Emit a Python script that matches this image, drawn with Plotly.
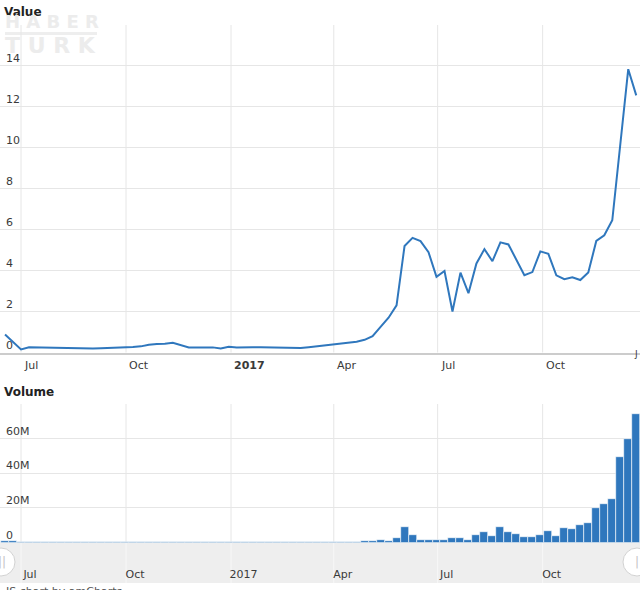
import pandas as pd
import plotly.graph_objects as go

# weekly closes and volumes
weeks = pd.date_range("2016-06-17", periods=80, freq="7D")

value = [
    0.88, 0.50, 0.15, 0.26, 0.25, 0.24, 0.22, 0.21, 0.20, 0.20,
    0.20, 0.20, 0.21, 0.22, 0.22, 0.23, 0.27, 0.30, 0.38, 0.42,
    0.43, 0.48, 0.35, 0.25, 0.25, 0.26, 0.25, 0.20, 0.28, 0.24,
    0.26, 0.26, 0.26, 0.25, 0.26, 0.24, 0.22, 0.22, 0.26, 0.30,
    0.34, 0.38, 0.42, 0.47, 0.53, 0.62, 0.80, 1.25, 1.70, 2.30,
    5.20, 5.60, 5.44, 4.90, 3.70, 3.98, 2.00, 3.90, 2.90, 4.35,
    5.05, 4.46, 5.38, 5.28, 4.50, 3.78, 3.93, 4.94, 4.82, 3.77,
    3.58, 3.67, 3.54, 3.91, 5.45, 5.73, 6.46, 10.1, 13.84, 12.56,
]

volume_m = [
    0.9, 0.8, 0.4, 0.3, 0.3, 0.3, 0.3, 0.3, 0.3, 0.3,
    0.3, 0.3, 0.3, 0.3, 0.3, 0.3, 0.3, 0.3, 0.3, 0.3,
    0.3, 0.3, 0.3, 0.3, 0.3, 0.3, 0.3, 0.3, 0.3, 0.3,
    0.3, 0.3, 0.3, 0.3, 0.3, 0.3, 0.3, 0.3, 0.3, 0.4,
    0.4, 0.4, 0.5, 0.5, 0.5, 0.6, 1.0, 1.5, 1.0, 2.5,
    8.8, 4.2, 1.7, 1.7, 1.7, 1.2, 2.5, 2.5, 1.2, 4.2,
    6.0, 3.5, 8.8, 6.0, 4.8, 3.1, 3.1, 4.2, 6.5, 3.7,
    8.6, 8.0, 10.4, 11.5, 20.0, 22.3, 25.1, 49.5, 59.7, 74.4,
]
volume = [v * 1e6 for v in volume_m]

tick_dates = ["2016-07-01", "2016-10-01", "2017-01-01", "2017-04-01", "2017-07-01", "2017-10-01"]
tick_top = ["Jul", "Oct", "<b>2017</b>", "Apr", "Jul", "Oct"]
tick_bottom = ["Jul", "Oct", "&nbsp;&nbsp;2017", "Apr", "Jul", "Oct"]

value_ticks = [0, 2, 4, 6, 8, 10, 12, 14, 16]
value_labels = ["0", "2", "4", "6", "8", "10", "12", "14", ""]
volume_ticks = [0, 20e6, 40e6, 60e6, 80e6]
volume_labels = ["0", "20M", "40M", "60M", ""]

x_range = ["2016-06-12 14:00", "2017-12-25 07:00"]
blue = "#2f77bd"
grid = "#e6e6e6"
font = "DejaVu Sans"
H = 590


def py(px):
    # pixel from top -> paper fraction
    return (H - px) / H


def px_frac(d):
    # date -> paper fraction along the shared time range
    r0, r1 = pd.Timestamp(x_range[0]), pd.Timestamp(x_range[1])
    return (pd.Timestamp(d) - r0) / (r1 - r0)


fig = go.Figure()
fig.add_trace(go.Scatter(x=weeks, y=value, mode="lines", line=dict(color=blue, width=2),
                         xaxis="x", yaxis="y", showlegend=False))
fig.add_trace(go.Bar(x=weeks, y=volume, marker=dict(color=blue, line=dict(color="#ffffff", width=0.6)),
                     xaxis="x2", yaxis="y2", showlegend=False))

axis_font = dict(family=font, size=11, color="#3a3a3a")
top_dom = [py(352.5), py(25)]
vol_dom = [py(542.5), py(404)]

fig.update_layout(
    width=640, height=H,
    margin=dict(l=0, r=0, t=0, b=0, autoexpand=False),
    paper_bgcolor="white", plot_bgcolor="rgba(0,0,0,0)",
    font=dict(family=font, size=11, color="#333"),
    bargap=0,
    xaxis=dict(domain=[0, 1], anchor="y", type="date", range=x_range,
               tickvals=tick_dates, showticklabels=False, showgrid=False,
               showline=True, linecolor="#cccccc", linewidth=2, ticks="", zeroline=False),
    yaxis=dict(domain=top_dom, anchor="x", range=[0, 16], tickvals=value_ticks,
               showgrid=True, gridcolor=grid, showticklabels=False, ticks="",
               zeroline=False, showline=False),
    xaxis2=dict(domain=[0, 1], anchor="y2", type="date", range=x_range,
                tickvals=tick_dates, ticktext=tick_bottom, showgrid=False,
                showline=False, ticks="",
                ticklabelshift=9, ticklabelstandoff=23,
                tickfont=axis_font, zeroline=False),
    yaxis2=dict(domain=vol_dom, anchor="x2", range=[0, 80e6], tickvals=volume_ticks,
                showgrid=True, gridcolor=grid, showticklabels=False, ticks="",
                zeroline=False, showline=False),
)

shapes = [
    # scrollbar strip
    dict(type="rect", xref="paper", yref="paper", x0=0, x1=1, y0=py(583), y1=py(542.5),
         fillcolor="#eeeeee", line=dict(width=0), layer="below"),
    # watermark underline
    dict(type="rect", xref="paper", yref="paper", x0=5 / 640, x1=97 / 640, y0=py(35), y1=py(32),
         fillcolor="#eeeeee", line=dict(width=0), layer="below"),
]
# vertical date gridlines for both panels, plus the faint ones across the scrollbar
for d in tick_dates:
    xf = px_frac(d)
    for y0, y1, col in [(top_dom[0], top_dom[1], grid), (vol_dom[0], vol_dom[1], grid),
                        (py(583), py(542.5), "#f7f7f7")]:
        shapes.append(dict(type="line", xref="paper", yref="paper", x0=xf, x1=xf, y0=y0, y1=y1,
                           line=dict(color=col, width=1), layer="below"))
for hx in [1, 637]:
    shapes.append(dict(type="circle", xref="paper", yref="paper", xsizemode="pixel", ysizemode="pixel",
                       xanchor=hx / 640, yanchor=py(562), x0=-14, x1=14, y0=-14, y1=14,
                       fillcolor="white", line=dict(color="#d2d2d2", width=1)))
fig.update_layout(shapes=shapes)

annotations = [
    dict(text="<b>Value</b>", x=2 / 640, y=py(12), xanchor="left", yanchor="middle",
         font=dict(family=font, size=12, color="#222")),
    dict(text="<b>Volume</b>", x=2 / 640, y=py(392), xanchor="left", yanchor="middle",
         font=dict(family=font, size=12, color="#222")),
    dict(text="<b>H A B E R</b>", x=3 / 640, y=py(22), xanchor="left", yanchor="middle",
         font=dict(family=font, size=18, color="#ececec")),
    dict(text="<b>T U R K</b>", x=3 / 640, y=py(46), xanchor="left", yanchor="middle",
         font=dict(family=font, size=22, color="#ececec")),
    dict(text="J", x=1, y=py(354), xanchor="right", yanchor="middle",
         font=dict(family=font, size=9, color="#3a3a3a")),
    dict(text="||", x=2 / 640, y=py(562), xanchor="center", yanchor="middle",
         font=dict(family=font, size=12, color="#c4c4c4")),
    dict(text="|", x=637 / 640, y=py(562), xanchor="center", yanchor="middle",
         font=dict(family=font, size=12, color="#c4c4c4")),
    dict(text="JS chart by amCharts", x=3 / 640, y=py(583), xanchor="left", yanchor="top",
         font=dict(family=font, size=11, color="#555")),
]
annotations = [dict(a, xref="paper", yref="paper") for a in annotations]

# top date labels start just right of their gridlines, as in amCharts
for d, lab in zip(tick_dates, tick_top):
    annotations.append(dict(text=lab, xref="x", yref="paper", x=d, y=py(365),
                            xanchor="left", yanchor="middle", xshift=1, font=axis_font))

# value-axis labels sit inside the plot, just above their gridlines
for yref, ticks, labels in [("y", value_ticks, value_labels), ("y2", volume_ticks, volume_labels)]:
    for t, lab in zip(ticks, labels):
        if lab:
            annotations.append(dict(text=lab, xref="paper", yref=yref, x=4 / 640, y=t,
                                    xanchor="left", yanchor="bottom", yshift=-1,
                                    font=axis_font))

fig.update_layout(annotations=[dict(a, showarrow=False) for a in annotations])

fig.write_html("out.html", config={"displayModeBar": False},
               post_script="document.body.style.margin='0';")
